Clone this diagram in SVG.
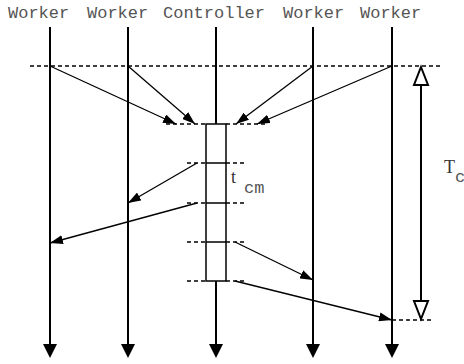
<svg xmlns="http://www.w3.org/2000/svg" width="464" height="364" viewBox="0 0 464 364">
  <style>
    .label { font-family: "Liberation Mono", "Courier New", monospace; font-size: 17px; fill: #555; }
    .serif { font-family: "Liberation Serif", "Times New Roman", serif; fill: #333; }
    .life { stroke: #000; stroke-width: 2; fill: none; }
    .msg { stroke: #000; stroke-width: 1.3; fill: none; marker-end: url(#head); }
    .dash { stroke: #000; stroke-width: 1.5; stroke-dasharray: 4 3; fill: none; }
    .tick { stroke: #000; stroke-width: 1.5; }
  </style>
  <defs>
    <marker id="head" viewBox="0 0 13 9" refX="13" refY="4.5" markerWidth="13" markerHeight="9" markerUnits="userSpaceOnUse" orient="auto">
      <path d="M0,0 L13,4.5 L0,9 Z" fill="#000"/>
    </marker>
  </defs>

  <rect width="464" height="364" fill="#fff"/>

  <!-- lifelines -->
  <g id="worker1">
    <text class="label" x="8" y="18">Worker</text>
    <line class="life" x1="50" y1="27" x2="50" y2="345"/>
    <path d="M43,344 L57,344 L50,358 Z" fill="#000"/>
  </g>
  <g id="worker2">
    <text class="label" x="87" y="18">Worker</text>
    <line class="life" x1="128" y1="27" x2="128" y2="345"/>
    <path d="M121,344 L135,344 L128,358 Z" fill="#000"/>
  </g>
  <g id="controller">
    <text class="label" x="163" y="18">Controller</text>
    <line class="life" x1="216" y1="27" x2="216" y2="345"/>
    <path d="M209,344 L223,344 L216,358 Z" fill="#000"/>
    <rect x="206" y="124" width="20" height="157" fill="#fff" stroke="#000" stroke-width="1.5"/>
    <line class="tick" x1="206" y1="163" x2="226" y2="163"/>
    <line class="tick" x1="206" y1="203" x2="226" y2="203"/>
    <line class="tick" x1="206" y1="242" x2="226" y2="242"/>
  </g>
  <g id="worker3">
    <text class="label" x="283" y="18">Worker</text>
    <line class="life" x1="313" y1="27" x2="313" y2="345"/>
    <path d="M306,344 L320,344 L313,358 Z" fill="#000"/>
  </g>
  <g id="worker4">
    <text class="label" x="360" y="18">Worker</text>
    <line class="life" x1="392" y1="27" x2="392" y2="345"/>
    <path d="M385,344 L399,344 L392,358 Z" fill="#000"/>
  </g>

  <!-- timing guides -->
  <g id="guides">
    <line class="dash" x1="30" y1="66" x2="441" y2="66"/>
    <line class="dash" x1="166" y1="124" x2="206" y2="124"/>
    <line class="dash" x1="226" y1="124" x2="266" y2="124"/>
    <line class="dash" x1="187" y1="163" x2="206" y2="163"/>
    <line class="dash" x1="226" y1="163" x2="246" y2="163"/>
    <line class="dash" x1="187" y1="203" x2="206" y2="203"/>
    <line class="dash" x1="226" y1="203" x2="246" y2="203"/>
    <line class="dash" x1="187" y1="242" x2="206" y2="242"/>
    <line class="dash" x1="226" y1="242" x2="246" y2="242"/>
    <line class="dash" x1="187" y1="281" x2="206" y2="281"/>
    <line class="dash" x1="226" y1="281" x2="246" y2="281"/>
    <line class="dash" x1="392" y1="320" x2="432" y2="320"/>
  </g>

  <!-- messages -->
  <g id="connectors">
    <line class="msg" x1="50" y1="66" x2="176" y2="124"/>
    <line class="msg" x1="128" y1="66" x2="195" y2="124"/>
    <line class="msg" x1="313" y1="66" x2="236" y2="124"/>
    <line class="msg" x1="392" y1="66" x2="257" y2="124"/>
    <line class="msg" x1="197" y1="163" x2="128" y2="203"/>
    <line class="msg" x1="197" y1="203" x2="50" y2="243"/>
    <line class="msg" x1="235" y1="242" x2="313" y2="280"/>
    <line class="msg" x1="235" y1="281" x2="392" y2="320"/>
  </g>

  <!-- duration annotations -->
  <g id="tcm">
    <text class="serif" x="231" y="183" font-size="18">t</text>
    <text class="label" x="244" y="193" font-size="16">cm</text>
  </g>
  <g id="tc">
    <line stroke="#000" stroke-width="2" x1="421" y1="85" x2="421" y2="301"/>
    <path d="M421,67 L428,85 L414,85 Z" fill="#fff" stroke="#000" stroke-width="2"/>
    <path d="M414,301 L428,301 L421,319 Z" fill="#fff" stroke="#000" stroke-width="2"/>
    <text class="serif" x="444" y="173" font-size="18">T</text>
    <text class="label" x="455" y="182" font-size="13">c</text>
  </g>
</svg>
